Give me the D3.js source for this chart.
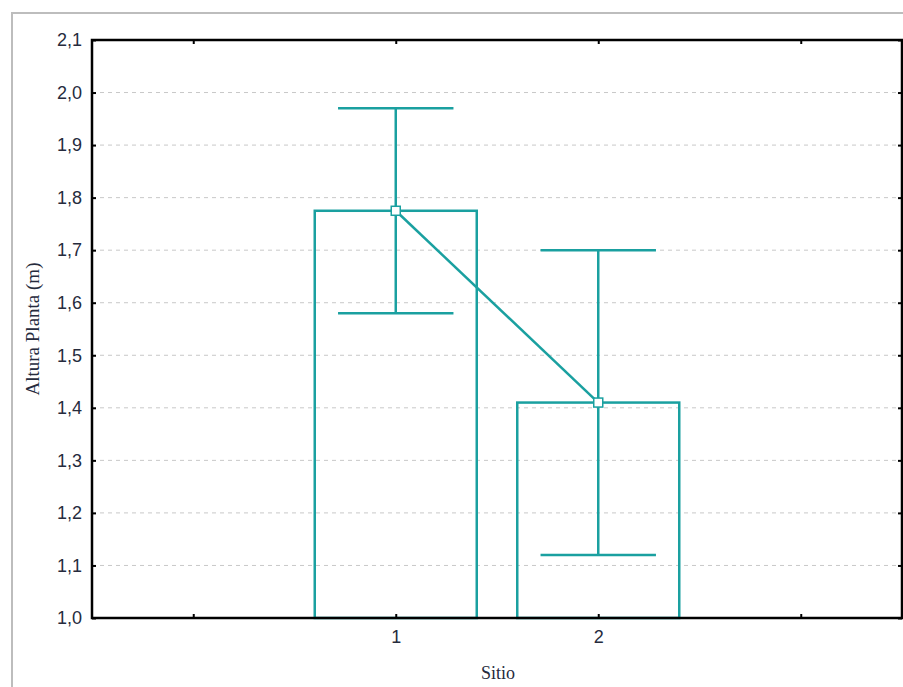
<!DOCTYPE html>
<html><head><meta charset="utf-8">
<script src="https://cdn.jsdelivr.net/npm/d3@7"></script>
<style>html,body{margin:0;padding:0;background:#fff;overflow:hidden;width:903px;height:687px;}svg{display:block;overflow:hidden;}</style>
</head><body>
<script>
const categories = ["1", "2"];
const means = [1.775, 1.41];
const upper = [1.97, 1.70];
const lower = [1.58, 1.12];
const yTicks = [1.0, 1.1, 1.2, 1.3, 1.4, 1.5, 1.6, 1.7, 1.8, 1.9, 2.0, 2.1];
const xTickPositions = [0, 1, 2, 3];

const W = 903, H = 687;
const teal = "#1aa0a0";
const textCol = "#262b3d";
const svg = d3.select("body").append("svg").attr("width", W).attr("height", H);

// outer frame (left and top edges only visible)
svg.append("path").attr("d", `M12,${H} L12,13 L${W},13`)
  .attr("fill", "none").attr("stroke", "#bdbdbd").attr("stroke-width", 2);

const L = 92, R = 902, T = 40, B = 618;
const x = d3.scaleLinear().domain([-0.5, 3.5]).range([L, R]);
const y = d3.scaleLinear().domain([1.0, 2.1]).range([B, T]);
const fmt = d => d3.format(".1f")(d).replace(".", ",");

// grid
svg.append("g").selectAll("line").data(yTicks.filter(d => d > 1.0 && d < 2.1)).join("line")
  .attr("x1", L).attr("x2", R).attr("y1", d => y(d)).attr("y2", d => y(d))
  .attr("stroke", "#c8c8c8").attr("stroke-width", 1).attr("stroke-dasharray", "4,4");

// bars
const ci = categories.map((c, i) => i + 1);
const g = svg.append("g");
g.selectAll("rect.bar").data(categories).join("rect").attr("class", "bar")
  .attr("x", (d, i) => x(ci[i] - 0.4)).attr("width", x(0.8) - x(0))
  .attr("y", (d, i) => y(means[i])).attr("height", (d, i) => B - y(means[i]))
  .attr("fill", "none").attr("stroke", teal).attr("stroke-width", 2.5);

// error bars
categories.forEach((c, i) => {
  const cx = x(ci[i]);
  g.append("line").attr("x1", cx).attr("x2", cx).attr("y1", y(upper[i])).attr("y2", y(lower[i]))
    .attr("stroke", teal).attr("stroke-width", 2.5);
  [upper[i], lower[i]].forEach(v => {
    g.append("line").attr("x1", x(ci[i] - 0.285)).attr("x2", x(ci[i] + 0.285))
      .attr("y1", y(v)).attr("y2", y(v)).attr("stroke", teal).attr("stroke-width", 2.5);
  });
});

// mean line
g.append("path").datum(means).attr("fill", "none").attr("stroke", teal).attr("stroke-width", 2.5)
  .attr("d", d3.line().x((d, i) => x(ci[i])).y(d => y(d)));
g.selectAll("rect.pt").data(means).join("rect").attr("class", "pt")
  .attr("x", (d, i) => x(ci[i]) - 4.5).attr("y", d => y(d) - 4.5).attr("width", 9).attr("height", 9)
  .attr("fill", "#fff").attr("stroke", teal).attr("stroke-width", 1.5);

// axes
const yAxis = svg.append("g").attr("transform", `translate(${L},0)`)
  .call(d3.axisLeft(y).tickValues(yTicks).tickFormat(fmt).tickSizeInner(-4).tickSizeOuter(0).tickPadding(10));
yAxis.select(".domain").remove();
yAxis.selectAll("line").attr("stroke", "#000").attr("stroke-width", 2);
yAxis.selectAll("text").attr("font-family", "Arial, 'Liberation Sans', sans-serif").attr("font-size", 18).attr("fill", textCol);

const yAxisR = svg.append("g").attr("transform", `translate(${R},0)`)
  .call(d3.axisRight(y).tickValues(yTicks).tickFormat("").tickSizeInner(-4).tickSizeOuter(0));
yAxisR.select(".domain").remove();
yAxisR.selectAll("line").attr("stroke", "#000").attr("stroke-width", 2);

const xAxis = svg.append("g").attr("transform", `translate(0,${B})`)
  .call(d3.axisBottom(x).tickValues(xTickPositions).tickFormat(d => (d >= 1 && d <= categories.length) ? categories[d - 1] : "").tickSizeInner(-4).tickSizeOuter(0).tickPadding(12));
xAxis.select(".domain").remove();
xAxis.selectAll("line").attr("stroke", "#000").attr("stroke-width", 2);
xAxis.selectAll("text").attr("font-family", "Arial, 'Liberation Sans', sans-serif").attr("font-size", 18).attr("fill", textCol);

const xAxisT = svg.append("g").attr("transform", `translate(0,${T})`)
  .call(d3.axisTop(x).tickValues(xTickPositions).tickFormat("").tickSizeInner(-4).tickSizeOuter(0));
xAxisT.select(".domain").remove();
xAxisT.selectAll("line").attr("stroke", "#000").attr("stroke-width", 2);

// frame of plot area
svg.append("rect").attr("x", L).attr("y", T).attr("width", R - L).attr("height", B - T)
  .attr("fill", "none").attr("stroke", "#000").attr("stroke-width", 2.5);

// titles
svg.append("text").attr("transform", `translate(39,329) rotate(-90)`)
  .attr("text-anchor", "middle").attr("font-family", "'Liberation Serif', 'Times New Roman', serif")
  .attr("font-size", 19).attr("fill", textCol).text("Altura Planta (m)");
svg.append("text").attr("x", 498).attr("y", 679).attr("text-anchor", "middle")
  .attr("font-family", "'Liberation Serif', 'Times New Roman', serif")
  .attr("font-size", 18).attr("fill", textCol).text("Sitio");
</script>
</body></html>
